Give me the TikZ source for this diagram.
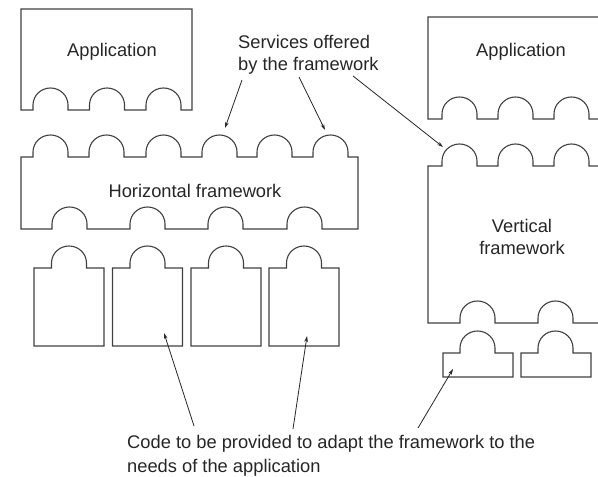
\documentclass[tikz,border=0pt]{standalone}
\usepackage{fontspec}
\setmainfont{Liberation Sans}
\usepackage{tikz}
\usetikzlibrary{positioning,arrows.meta,calc}

\begin{document}
\begin{tikzpicture}[
    x=1pt, y=1pt,
    >={Stealth[length=6pt,width=3.6pt]},
    part/.style={draw=black!75, line width=1.1pt, line join=miter},
    bump/.style={insert path={-- ++(0,5) arc[start angle=180, end angle=0, x radius=17.5, y radius=17] -- ++(0,-5)}},
    bumpback/.style={insert path={-- ++(0,5) arc[start angle=0, end angle=180, x radius=17.5, y radius=17] -- ++(0,-5)}},
    label/.style={font=\fontsize{18.3}{22.5}\selectfont, text=black!85, inner sep=0pt},
    arrow/.style={->, line width=0.8pt, black!85}
]
\useasboundingbox (0,0) rectangle (598,477);

% horizontal framework side
\draw[part] (21,468) -- (21,367) foreach \x in {33,89.5,146} {-- (\x,367) [bump]} -- (192,367) -- (192,468) -- cycle;
\draw[part] (21,248) -- (21,320) foreach \x in {33,89,146,202,257,313} {-- (\x,320) [bump]} -- (358,320)
    -- (358,248) foreach \x in {322,243,165,87} {-- (\x,248) [bumpback]} -- cycle;
\foreach \x in {34,112.5,191,269}
    \draw[part] (\x,131) -- (\x,209) -- ++(17.5,0) [bump] -- (\x+70,209) -- (\x+70,131) -- cycle;

% vertical framework side (cut at the right edge)
\draw[part] (598,460) -- (428,460) -- (428,358) foreach \x in {442,498,554} {-- (\x,358) [bump]} -- (598,358);
\draw[part] (598,311) foreach \x in {589,533,477} {-- (\x,311) [bumpback]} -- (428,311)
    -- (428,154) foreach \x in {460,538} {-- (\x,154) [bump]} -- (598,154);
\foreach \x in {443,521}
    \draw[part] (\x,100) -- (\x,124) -- ++(17,0) [bump] -- (\x+70,124) -- (\x+70,100) -- cycle;

% texts
\node[label] (appH) at (112,425) {Application};
\node[label] (appV) at (521,425) {Application};
\node[label] (horiz) at (195,286) {Horizontal framework};
\node[label, align=center] (vert) at (522,240) {Vertical\\framework};
\node[label, align=left, anchor=west] (svc) at (238,422) {Services offered\\by the framework};
\node[label, align=left, anchor=south west, font=\fontsize{18.3}{24}\selectfont] (code) at (127,1)
    {Code to be provided to adapt the framework to the\\needs of the application};

% arrows
\coordinate (s1) at (242,397);  \coordinate (t1) at (225,349);
\coordinate (s2) at (299,400);  \coordinate (t2) at (325,347);
\coordinate (s3) at (353,401);  \coordinate (t3) at (443,330);
\coordinate (c1) at (194,51);   \coordinate (u1) at (164,144);
\coordinate (c2) at (293,48);   \coordinate (u2) at (307,141);
\coordinate (c3) at (418,49);   \coordinate (u3) at (453,108);
\draw[arrow] (s1) -- (t1);
\draw[arrow] (s2) -- (t2);
\draw[arrow] (s3) -- (t3);
\draw[arrow] (c1) -- (u1);
\draw[arrow] (c2) -- (u2);
\draw[arrow] (c3) -- (u3);
\end{tikzpicture}
\end{document}
